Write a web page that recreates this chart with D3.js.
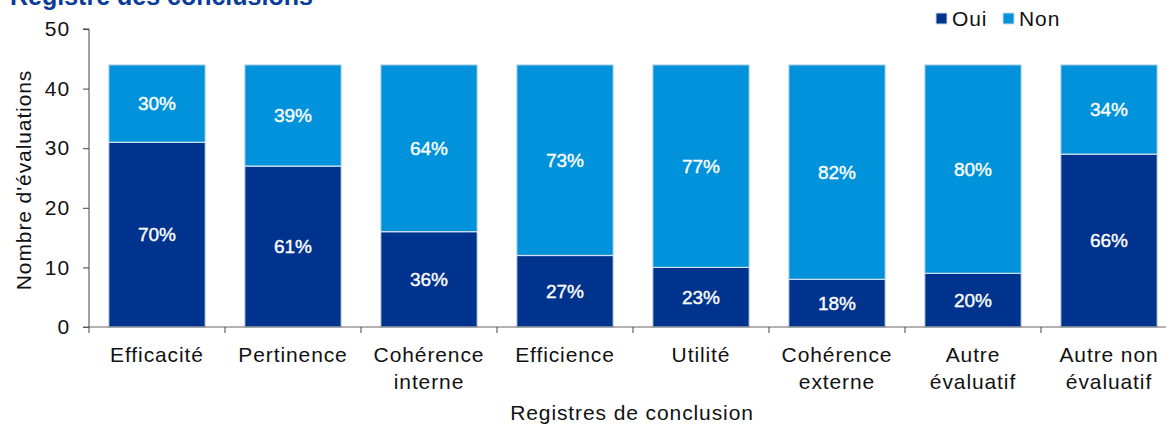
<!DOCTYPE html>
<html>
<head>
<meta charset="utf-8">
<script src="https://cdn.jsdelivr.net/npm/d3@7"></script>
<style>
  html, body { margin: 0; padding: 0; background: #fff; }
  svg { display: block; font-family: "Liberation Sans", Arial, sans-serif; }
</style>
</head>
<body>
<svg id="chart" width="1166" height="426"></svg>
<script>
// Registres de conclusion : nombre d'évaluations par réponse
const categories = [
  ["Efficacité"], ["Pertinence"], ["Cohérence", "interne"], ["Efficience"],
  ["Utilité"], ["Cohérence", "externe"], ["Autre", "évaluatif"], ["Autre non", "évaluatif"]
];
const oui = [31, 27, 16, 12, 10, 8, 9, 29];
const non = [13, 17, 28, 32, 34, 36, 35, 15];
const yTicks = [0, 10, 20, 30, 40, 50];
const seriesNames = ["Oui", "Non"];
const colors = { Oui: "#00338D", Non: "#0092DA" };

const svg = d3.select("#chart");
const margin = { left: 89, top: 29, bottom: 327 };
const bandW = 136;
const fs = 21;
const ls = "0.9px";

const x = d3.scaleBand()
  .domain(d3.range(categories.length))
  .range([margin.left, margin.left + bandW * categories.length])
  .paddingInner(0.29).paddingOuter(0.145);
const y = d3.scaleLinear().domain([0, 50]).range([margin.bottom, margin.top]);

const rows = categories.map((c, i) => ({ i, Oui: oui[i], Non: non[i] }));
const stack = d3.stack().keys(seriesNames)(rows);

// Bars
const g = svg.append("g");
stack.forEach(layer => {
  g.selectAll(null).data(layer).enter().append("rect")
    .attr("x", d => x(d.data.i))
    .attr("y", d => y(d[1]))
    .attr("width", x.bandwidth())
    .attr("height", d => y(d[0]) - y(d[1]))
    .attr("fill", colors[layer.key])
    .attr("stroke", "#d3e0ec")
    .attr("stroke-width", 1.2);
});

// Percent labels
stack.forEach(layer => {
  g.selectAll(null).data(layer).enter().append("text")
    .attr("x", d => x(d.data.i) + x.bandwidth() / 2)
    .attr("y", d => (y(d[0]) + y(d[1])) / 2)
    .attr("dy", "0.35em")
    .attr("text-anchor", "middle")
    .attr("fill", "#fff")
    .attr("stroke", "#fff")
    .attr("stroke-width", 0.4)
    .attr("font-size", 19)
    .text(d => Math.round(100 * (d[1] - d[0]) / (d.data.Oui + d.data.Non)) + "%");
});

// Y axis
const yAxis = svg.append("g")
  .attr("transform", `translate(${margin.left},0)`)
  .call(d3.axisLeft(y).tickValues(yTicks).tickSize(6).tickPadding(13));
yAxis.select(".domain").attr("stroke", "#444").attr("d", `M-6,${y(50)}H0V${y(0)}`);
yAxis.selectAll(".tick line").attr("stroke", "#444");
yAxis.selectAll(".tick text").attr("font-size", fs).attr("fill", "#111")
  .attr("letter-spacing", ls)
  .attr("font-family", "Liberation Sans, Arial, sans-serif");

// X axis
const xLine = svg.append("g").attr("transform", `translate(0,${margin.bottom})`);
xLine.append("line").attr("x1", margin.left - 6).attr("x2", 1166)
  .attr("stroke", "#666").attr("stroke-width", 1.2);
xLine.selectAll(null).data(d3.range(categories.length + 1)).enter().append("line")
  .attr("x1", i => margin.left + i * bandW).attr("x2", i => margin.left + i * bandW)
  .attr("y1", 0).attr("y2", 6).attr("stroke", "#444");

const xl = svg.append("g");
categories.forEach((lines, i) => {
  const t = xl.append("text")
    .attr("x", x(i) + x.bandwidth() / 2)
    .attr("y", 362)
    .attr("text-anchor", "middle")
    .attr("font-size", fs)
    .attr("letter-spacing", ls)
    .attr("fill", "#111");
  lines.forEach((l, k) => t.append("tspan")
    .attr("x", x(i) + x.bandwidth() / 2)
    .attr("dy", k === 0 ? 0 : 27)
    .text(l));
});

// Axis titles
svg.append("text").attr("x", 632).attr("y", 420).attr("text-anchor", "middle")
  .attr("font-size", fs).attr("letter-spacing", ls).attr("fill", "#111")
  .text("Registres de conclusion");
svg.append("text").attr("transform", "translate(31,180) rotate(-90)")
  .attr("text-anchor", "middle").attr("font-size", fs).attr("letter-spacing", ls)
  .attr("fill", "#111")
  .text("Nombre d'évaluations");

// Title
svg.append("text").attr("x", 10).attr("y", 5).attr("font-size", 25)
  .attr("font-weight", "bold").attr("fill", "#0A3C9A").text("Registre des conclusions");

// Legend
const leg = svg.append("g").attr("transform", "translate(936,13)");
const legX = [0, 67];
seriesNames.forEach((s, k) => {
  leg.append("rect").attr("x", legX[k]).attr("y", 0).attr("width", 11).attr("height", 11)
    .attr("fill", colors[s]).attr("stroke", "#cfd6de").attr("stroke-width", 1);
  leg.append("text").attr("x", legX[k] + 16).attr("y", 6).attr("dy", "0.35em")
    .attr("font-size", fs).attr("letter-spacing", ls).attr("fill", "#111").text(s);
});
</script>
</body>
</html>
